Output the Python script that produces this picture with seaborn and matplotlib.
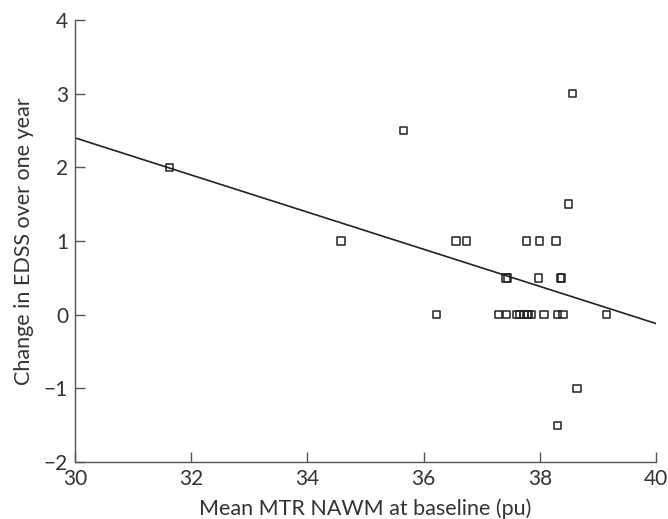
import matplotlib
matplotlib.use("Agg")
import matplotlib.pyplot as plt
import seaborn as sns
import pandas as pd

# Data
mtr = [31.63, 34.58, 35.65, 36.22, 36.56, 36.74,
       37.29, 37.43, 37.44, 37.60, 37.66, 37.73, 37.78, 37.80, 37.86,
       37.77, 38.00, 37.98, 38.07, 38.28, 38.36, 38.37, 38.30, 38.40,
       38.49, 38.56, 38.64, 38.31, 39.15, 37.42]
edss = [2.0, 1.0, 2.5, 0.0, 1.0, 1.0,
        0.0, 0.0, 0.5, 0.0, 0.0, 0.0, 0.0, 0.0, 0.0,
        1.0, 1.0, 0.5, 0.0, 1.0, 0.5, 0.5, 0.0, 0.0,
        1.5, 3.0, -1.0, -1.5, 0.0, 0.5]

fit_x = [30, 40]
fit_y = [2.40, -0.12]

x_ticks = [30, 32, 34, 36, 38, 40]
y_ticks = [-2, -1, 0, 1, 2, 3, 4]

sns.set_theme(style="white")
plt.rcParams['font.family'] = ['Lato', 'DejaVu Sans']

df = pd.DataFrame({"mtr": mtr, "edss": edss})
fit = pd.DataFrame({"x": fit_x, "y": fit_y})

fig = plt.figure(figsize=(6.68, 5.19), dpi=100)
ax = fig.add_axes([0.1123, 0.1098, 0.8697, 0.8517])

sns.lineplot(data=fit, x="x", y="y", ax=ax, color="#222222", linewidth=1.2)
sns.scatterplot(data=df, x="mtr", y="edss", ax=ax, marker="s", s=28,
                facecolor="none", edgecolor="#222222", linewidth=1.1, zorder=3)

ax.set_xlim(30, 40)
ax.set_ylim(-2, 4)
ax.set_xticks(x_ticks)
ax.set_yticks(y_ticks)
ax.set_xlabel("Mean MTR NAWM at baseline (pu)", fontsize=15.5, color="#333333", labelpad=7)
ax.set_ylabel("Change in EDSS over one year", fontsize=15.5, color="#333333", labelpad=7)
ax.tick_params(axis="both", direction="in", length=7, width=1, color="#555555",
               labelsize=15, labelcolor="#333333", left=True, bottom=True, pad=5)
for side in ["top", "right"]:
    ax.spines[side].set_visible(False)
for side in ["left", "bottom"]:
    ax.spines[side].set_color("#555555")
    ax.spines[side].set_linewidth(1.0)

fig.savefig("out.png", dpi=100)
